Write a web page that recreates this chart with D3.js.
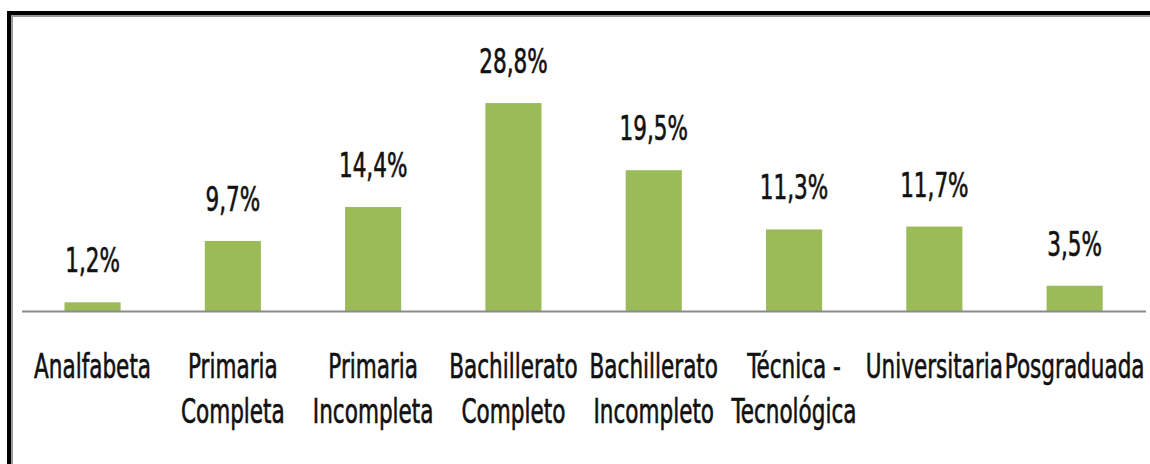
<!DOCTYPE html>
<html>

<head>
    <meta charset="utf-8">
    <title>Nivel educativo</title>
    <style>
        body { margin: 0; background: #fff; }
        text { font-family: "Liberation Sans Narrow", "DejaVu Sans Condensed", "Liberation Sans", sans-serif; fill: #111; stroke: #111; stroke-width: 0.6px; }
    </style>
</head>

<body>
    <script src="https://d3js.org/d3.v7.min.js"></script>
    <script>
        let categories = [
            ["Analfabeta"],
            ["Primaria", "Completa"],
            ["Primaria", "Incompleta"],
            ["Bachillerato", "Completo"],
            ["Bachillerato", "Incompleto"],
            ["Técnica -", "Tecnológica"],
            ["Universitaria"],
            ["Posgraduada"]
        ];
        let values = [1.2, 9.7, 14.4, 28.8, 19.5, 11.3, 11.7, 3.5];

        let width = 1150, height = 464;
        let baseY = 311;
        let fontSize = 33;

        let svg = d3.select("body").append("svg")
            .attr("width", width)
            .attr("height", height);

        // marco con sombra
        svg.append("rect")
            .attr("x", 9).attr("y", 13)
            .attr("width", width + 20).attr("height", height + 20)
            .attr("fill", "none")
            .attr("stroke", "#000")
            .attr("stroke-width", 4);
        svg.append("rect")
            .attr("x", 12).attr("y", 16)
            .attr("width", width + 20).attr("height", height + 20)
            .attr("fill", "none")
            .attr("stroke", "#999")
            .attr("stroke-width", 2);

        let x = d3.scaleBand()
            .domain(d3.range(values.length))
            .range([22.4, 1144.8])
            .paddingInner(0.6)
            .paddingOuter(0.3);

        let y = d3.scaleLinear()
            .domain([0, 30])
            .range([baseY, baseY - 30 * 7.22]);

        svg.selectAll("rect.bar")
            .data(values)
            .enter()
            .append("rect")
            .attr("class", "bar")
            .attr("x", function(d, i) { return x(i); })
            .attr("y", function(d) { return y(d); })
            .attr("width", x.bandwidth())
            .attr("height", function(d) { return baseY - y(d); })
            .style("fill", "#9BBB59");

        svg.append("line")
            .attr("x1", 22).attr("x2", 1146)
            .attr("y1", baseY + 0.5).attr("y2", baseY + 0.5)
            .attr("stroke", "#8a8a8a")
            .attr("stroke-width", 2);

        // factor de compresion horizontal a partir del ancho de "Analfabeta"
        let probe = svg.append("text").style("font-size", fontSize + "px").text("Analfabeta");
        let sx = 117 / probe.node().getComputedTextLength();
        probe.remove();

        let fmt = function(d) { return d.toFixed(1).replace(".", ",") + "%"; };

        svg.selectAll("text.val")
            .data(values)
            .enter()
            .append("text")
            .attr("class", "val")
            .attr("text-anchor", "middle")
            .style("font-size", fontSize + "px")
            .attr("transform", function(d, i) {
                return "translate(" + (x(i) + x.bandwidth() / 2) + "," + (y(d) - 30) + ") scale(" + sx + ",1)";
            })
            .text(fmt);

        categories.forEach(function(lines, i) {
            lines.forEach(function(t, j) {
                svg.append("text")
                    .attr("text-anchor", "middle")
                    .style("font-size", fontSize + "px")
                    .attr("transform", "translate(" + (x(i) + x.bandwidth() / 2) + "," + (378 + j * 45) + ") scale(" + sx + ",1)")
                    .text(t);
            });
        });
    </script>
</body>

</html>
